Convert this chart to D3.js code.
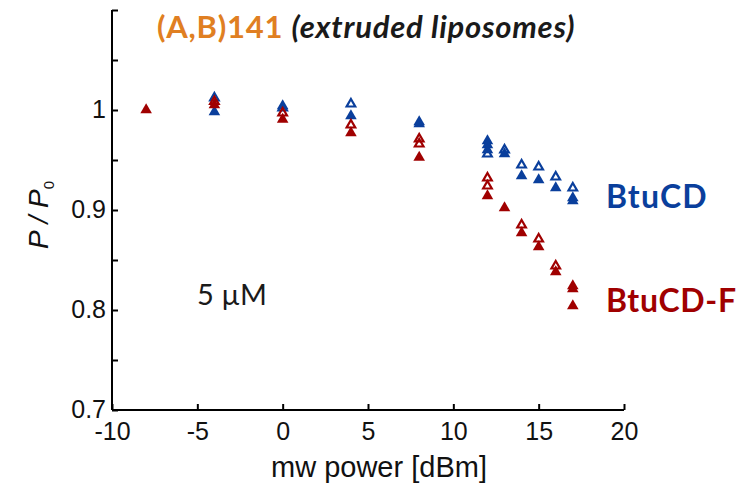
<!DOCTYPE html>
<html>
<head>
<meta charset="utf-8">
<script src="https://cdn.jsdelivr.net/npm/d3@7/dist/d3.min.js"></script>
<style>
  html, body { margin: 0; padding: 0; background: #fff; }
  svg { display: block; }
</style>
</head>
<body>
<script>
// Microwave power saturation: P/P0 vs mw power, 5 µM, extruded liposomes

const xTicks = [-10, -5, 0, 5, 10, 15, 20];
const yTicks = [0.7, 0.8, 0.9, 1];
const yMinorTicks = [0.75, 0.85, 0.95, 1.05, 1.1];

// BtuCD, filled triangles
const btucdFilledX = [-4, 0, 4, 8, 8, 12, 12, 12, 13, 14, 15, 16, 17, 17];
const btucdFilledY = [0.998, 1.004, 0.994, 0.988, 0.986, 0.969, 0.965, 0.960, 0.956, 0.934, 0.930, 0.922, 0.912, 0.909];
// BtuCD, open triangles
const btucdOpenX = [-4, 0, 4, 12, 13, 14, 15, 16, 17];
const btucdOpenY = [1.012, 1.002, 1.006, 0.956, 0.960, 0.945, 0.943, 0.933, 0.922];
// BtuCD-F, filled triangles
const btucdfFilledX = [-8, -4, 0, 4, 8, 12, 13, 14, 15, 16, 17, 17, 17];
const btucdfFilledY = [1.000, 1.005, 0.9905, 0.977, 0.9525, 0.914, 0.902, 0.877, 0.863, 0.838, 0.824, 0.821, 0.804];
// BtuCD-F, open triangles
const btucdfOpenX = [-4, 0, 4, 8, 8, 12, 12, 14, 15, 16];
const btucdfOpenY = [1.0085, 0.997, 0.985, 0.971, 0.966, 0.932, 0.924, 0.885, 0.871, 0.844];

const BLUE = "#0a3f9c";
const RED = "#a00000";
const ORANGE = "#e07f22";

const W = 756, H = 487;
const svg = d3.select("body").append("svg").attr("width", W).attr("height", H);

const x = d3.scaleLinear().domain([-10, 20]).range([112, 624]);
const y = d3.scaleLinear().domain([0.7, 1.1]).range([410, 10]);

const axisFont = "'Liberation Sans', Arial, sans-serif";

// Y axis: inward ticks every 0.05, labels every 0.1
const yAxis = d3.axisLeft(y)
  .tickValues(yTicks.concat(yMinorTicks))
  .tickSize(-6)
  .tickFormat(d => yTicks.includes(d) ? d3.format("~g")(d) : "");
const gy = svg.append("g").attr("transform", `translate(${x(-10)},0)`).call(yAxis);
gy.select(".domain").attr("d", `M0,${y(1.1)}V${y(0.7)}`);

// X axis: inward ticks, plain hyphen for negatives
const xAxis = d3.axisBottom(x).tickValues(xTicks).tickSize(-6)
  .tickFormat(d => String(d));
const gx = svg.append("g").attr("transform", `translate(0,${y(0.7)})`).call(xAxis);
gx.select(".domain").attr("d", `M${x(-10)},0H${x(20)}`);

[gx, gy].forEach(g => {
  g.select(".domain").attr("stroke", "#000").attr("stroke-width", 2);
  g.selectAll(".tick line").attr("stroke", "#000").attr("stroke-width", 2);
  g.selectAll(".tick text").attr("fill", "#111").attr("font-family", axisFont).attr("font-size", 25);
});
gy.selectAll(".tick text").attr("x", -6).attr("dy", "0.3em");
gx.selectAll(".tick text").attr("y", 12).attr("dy", "0.71em");

// Axis titles
svg.append("text")
  .attr("x", 379).attr("y", 477)
  .attr("text-anchor", "middle")
  .attr("font-family", axisFont).attr("font-size", 29).attr("fill", "#111")
  .text("mw power [dBm]");

const yl = svg.append("text")
  .attr("transform", "translate(48,215) rotate(-90)")
  .attr("text-anchor", "middle")
  .attr("font-family", axisFont).attr("font-size", 28).attr("fill", "#111")
  .attr("font-style", "italic");
yl.append("tspan").text("P / P");
yl.append("tspan").attr("font-size", 15).attr("font-style", "normal").attr("dy", 6).text("0");

// Markers
const filledSym = d3.symbol(d3.symbolTriangle, 58);
const openSym = d3.symbol(d3.symbolTriangle, 32);

function drawSeries(xs, ys, color, open) {
  const pts = xs.map((v, i) => [v, ys[i]]);
  svg.append("g").selectAll("path").data(pts).join("path")
    .attr("transform", d => `translate(${x(d[0])},${y(d[1])})`)
    .attr("d", open ? openSym : filledSym)
    .attr("fill", open ? "none" : color)
    .attr("stroke", open ? color : "none")
    .attr("stroke-width", open ? 2.2 : 0);
}
drawSeries(btucdFilledX, btucdFilledY, BLUE, false);
drawSeries(btucdOpenX, btucdOpenY, BLUE, true);
drawSeries(btucdfOpenX, btucdfOpenY, RED, true);
drawSeries(btucdfFilledX, btucdfFilledY, RED, false);

// Title and annotations
const labelFont = "Lato, 'Open Sans', sans-serif";
const title = svg.append("text")
  .attr("x", 157).attr("y", 38)
  .attr("font-family", labelFont).attr("font-weight", "bold").attr("font-size", 31)
  .attr("letter-spacing", 0.75);
title.append("tspan").attr("fill", ORANGE).text("(A,B)141 ");
title.append("tspan").attr("fill", "#1a1a1a").attr("font-style", "italic").text("(extruded liposomes)");

svg.append("text").attr("x", 606).attr("y", 208)
  .attr("font-family", labelFont).attr("font-weight", "bold").attr("font-size", 32)
  .attr("letter-spacing", 1.2)
  .attr("fill", BLUE).text("BtuCD");
svg.append("text").attr("x", 606).attr("y", 312)
  .attr("font-family", labelFont).attr("font-weight", "bold").attr("font-size", 32)
  .attr("letter-spacing", 0.7)
  .attr("fill", RED).text("BtuCD-F");

svg.append("text").attr("x", 197).attr("y", 305)
  .attr("font-family", labelFont).attr("font-size", 29)
  .attr("fill", "#1a1a1a").text("5 \u00B5M");
</script>
</body>
</html>
